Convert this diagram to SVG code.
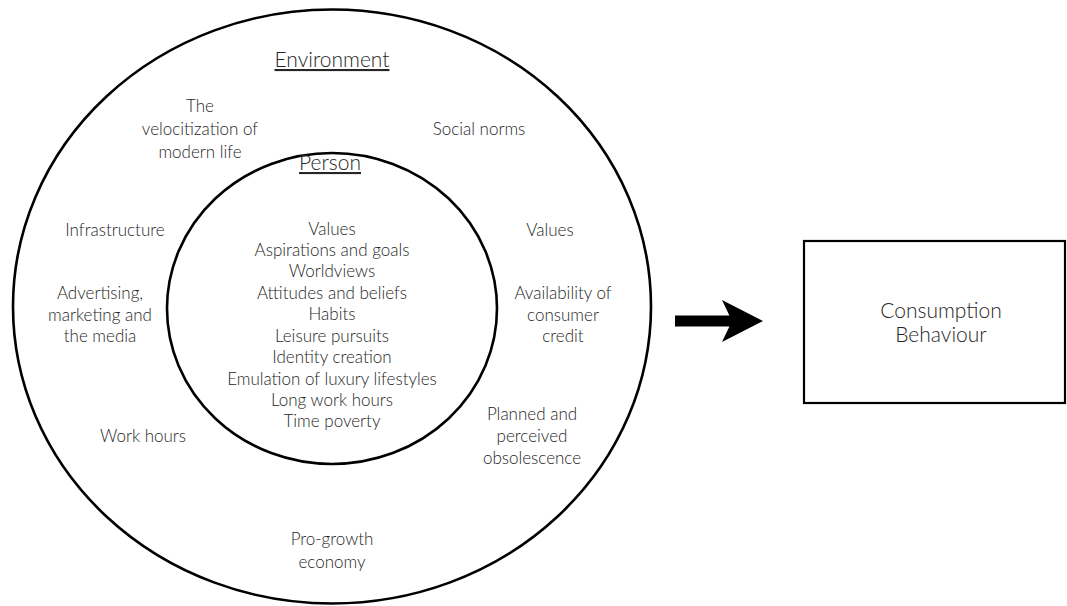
<svg xmlns="http://www.w3.org/2000/svg" width="1067" height="606" viewBox="0 0 1067 606">
  <style>
    .ring { fill: none; stroke: #000; stroke-width: 2.6; }
    .box { fill: #fff; stroke: #000; stroke-width: 2.2; }
    text { font-family: "Lato", "Open Sans", "Liberation Sans", sans-serif; font-size: 17px; font-weight: 300; fill: #262626; text-anchor: middle; }
    .head { text-decoration: underline; font-size: 21px; }
    .big { font-size: 21px; }
  </style>
  <defs>
    <marker id="arrowhead" markerUnits="userSpaceOnUse" viewBox="0 0 41 42" markerWidth="41" markerHeight="42" refX="10" refY="21" orient="auto">
      <path d="M0,0 L41,21 L0,42 L10,21 Z" fill="#000"/>
    </marker>
  </defs>

  <rect width="1067" height="606" fill="#fff"/>

  <!-- Outer ring: environmental factors -->
  <g id="environment">
    <ellipse class="ring" cx="332" cy="306.5" rx="319" ry="297"/>
    <text class="head" x="332" y="67">Environment</text>
    <text x="200" y="112">The</text>
    <text x="200" y="135">velocitization of</text>
    <text x="200" y="158">modern life</text>
    <text x="479" y="135">Social norms</text>
    <text x="115" y="236">Infrastructure</text>
    <text x="550" y="236">Values</text>
    <text x="100" y="299">Advertising,</text>
    <text x="100" y="321">marketing and</text>
    <text x="100" y="342">the media</text>
    <text x="563" y="299">Availability of</text>
    <text x="563" y="321">consumer</text>
    <text x="563" y="342">credit</text>
    <text x="143" y="442">Work hours</text>
    <text x="532" y="420">Planned and</text>
    <text x="532" y="442">perceived</text>
    <text x="532" y="464">obsolescence</text>
    <text x="332" y="545">Pro-growth</text>
    <text x="332" y="568">economy</text>
  </g>

  <!-- Inner ring: personal factors -->
  <g id="person">
    <ellipse class="ring" cx="332" cy="308.5" rx="165" ry="155.5"/>
    <text class="head" x="330" y="170">Person</text>
    <text x="332" y="235">Values</text>
    <text x="332" y="256">Aspirations and goals</text>
    <text x="332" y="277">Worldviews</text>
    <text x="332" y="299">Attitudes and beliefs</text>
    <text x="332" y="320">Habits</text>
    <text x="332" y="342">Leisure pursuits</text>
    <text x="332" y="363">Identity creation</text>
    <text x="332" y="385">Emulation of luxury lifestyles</text>
    <text x="332" y="406">Long work hours</text>
    <text x="332" y="427">Time poverty</text>
  </g>

  <!-- Outcome -->
  <g id="consumption">
    <rect class="box" x="804" y="241" width="261" height="162"/>
    <text class="big" x="941" y="318">Consumption</text>
    <text class="big" x="941" y="342">Behaviour</text>
  </g>

  <g id="connectors">
    <line x1="675" y1="321" x2="732" y2="321" stroke="#000" stroke-width="11" marker-end="url(#arrowhead)"/>
  </g>
</svg>
